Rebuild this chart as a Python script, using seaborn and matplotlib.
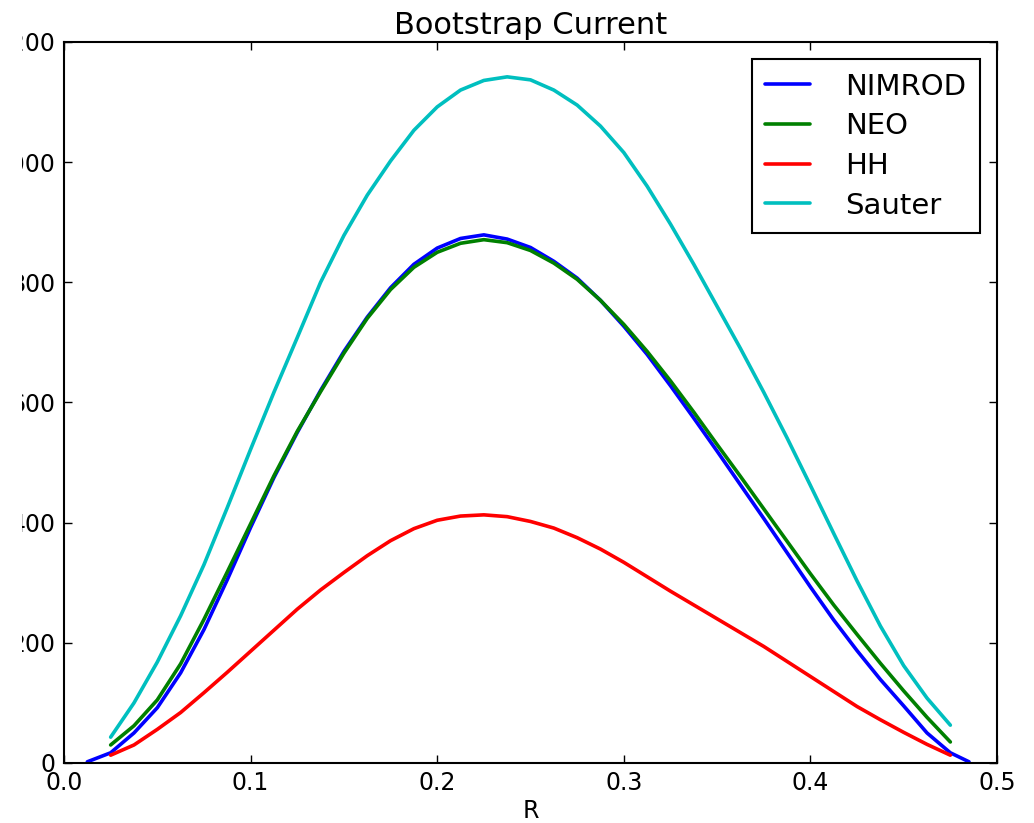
import numpy as np
import pandas as pd
import matplotlib
matplotlib.use("Agg")
import matplotlib.pyplot as plt
import seaborn as sns
from matplotlib.transforms import Bbox, TransformedBbox

# radial grid
r_common = [0.025, 0.0375, 0.05, 0.0625, 0.075, 0.0875, 0.1, 0.1125,
            0.125, 0.1375, 0.15, 0.1625, 0.175, 0.1875, 0.2, 0.2125,
            0.225, 0.2375, 0.25, 0.2625, 0.275, 0.2875, 0.3, 0.3125,
            0.325, 0.3375, 0.35, 0.3625, 0.375, 0.3875, 0.4, 0.4125,
            0.425, 0.4375, 0.45, 0.4625, 0.475]
r_nimrod = [0.0125] + r_common + [0.485]

nimrod = [2, 17, 50, 92, 150, 222, 305, 392, 475, 550, 620, 685, 742, 791,
          830, 857, 873, 879, 872, 858, 835, 807, 770, 727, 680, 628, 574,
          519, 463, 407, 350, 293, 238, 187, 139, 95, 50, 17, 2]
neo = [30, 62, 105, 165, 239, 318, 398, 478, 552, 618, 682, 740, 788, 825,
       850, 865, 871, 866, 853, 832, 805, 770, 730, 685, 636, 584, 530, 477,
       423, 369, 315, 263, 214, 166, 120, 76, 35]
hh = [13, 30, 56, 84, 117, 151, 186, 221, 256, 288, 317, 345, 370, 390,
      404, 411, 413, 410, 402, 391, 375, 356, 334, 310, 286, 263, 240, 217,
      194, 169, 144, 119, 94, 72, 51, 31, 13]
sauter = [43, 100, 168, 245, 330, 425, 522, 617, 708, 800, 878, 945, 1002,
          1053, 1092, 1120, 1136, 1142, 1137, 1120, 1095, 1060, 1016, 960,
          897, 830, 760, 690, 617, 541, 462, 382, 303, 228, 162, 108, 63]

series = [("NIMROD", r_nimrod, nimrod, "blue"),
          ("NEO", r_common, neo, "green"),
          ("HH", r_common, hh, "red"),
          ("Sauter", r_common, sauter, "#00bfbf")]

sns.set_style("white")
plt.rcParams["font.family"] = ["DejaVu Sans"]
plt.rcParams["text.color"] = "black"
plt.rcParams["axes.labelcolor"] = "black"
plt.rcParams["xtick.color"] = "black"
plt.rcParams["ytick.color"] = "black"

fig = plt.figure(figsize=(10.34, 8.23), dpi=100)
ax = fig.add_axes([64 / 1034, 60 / 823, 933 / 1034, 721 / 823])

for name, r, vals, col in series:
    df = pd.DataFrame({"R": r, "J": vals})
    sns.lineplot(data=df, x="R", y="J", color=col, lw=2.6, label=name, ax=ax)

ax.set_xlim(0, 0.5)
ax.set_ylim(0, 1200)
ax.set_xticks([0.0, 0.1, 0.2, 0.3, 0.4, 0.5])
ax.set_yticks([0, 200, 400, 600, 800, 1000, 1200])
ax.set_xlabel("R", fontsize=17, labelpad=3)
ax.set_ylabel("")
ax.set_title("Bootstrap Current", fontsize=22, pad=6)
ax.tick_params(direction="in", top=True, right=True, bottom=True, left=True,
               length=6, width=1, labelsize=17, pad=6)
for s in ax.spines.values():
    s.set_color("black")
    s.set_linewidth(1.5)

leg = ax.legend(loc="upper right", fontsize=21, frameon=True, fancybox=False,
                edgecolor="black", framealpha=1, handlelength=1.55,
                handletextpad=1.2, labelspacing=0.4, borderpad=0.45,
                borderaxespad=0.6)
leg.get_frame().set_linewidth(1.5)

# the source image is cropped on the left, cutting off the y tick labels
clip = TransformedBbox(Bbox([[22 / 1034, 0], [1, 1]]), fig.transFigure)
for lbl in ax.get_yticklabels():
    lbl.set_clip_box(clip)
    lbl.set_clip_on(True)

fig.savefig("out.png", dpi=100)
